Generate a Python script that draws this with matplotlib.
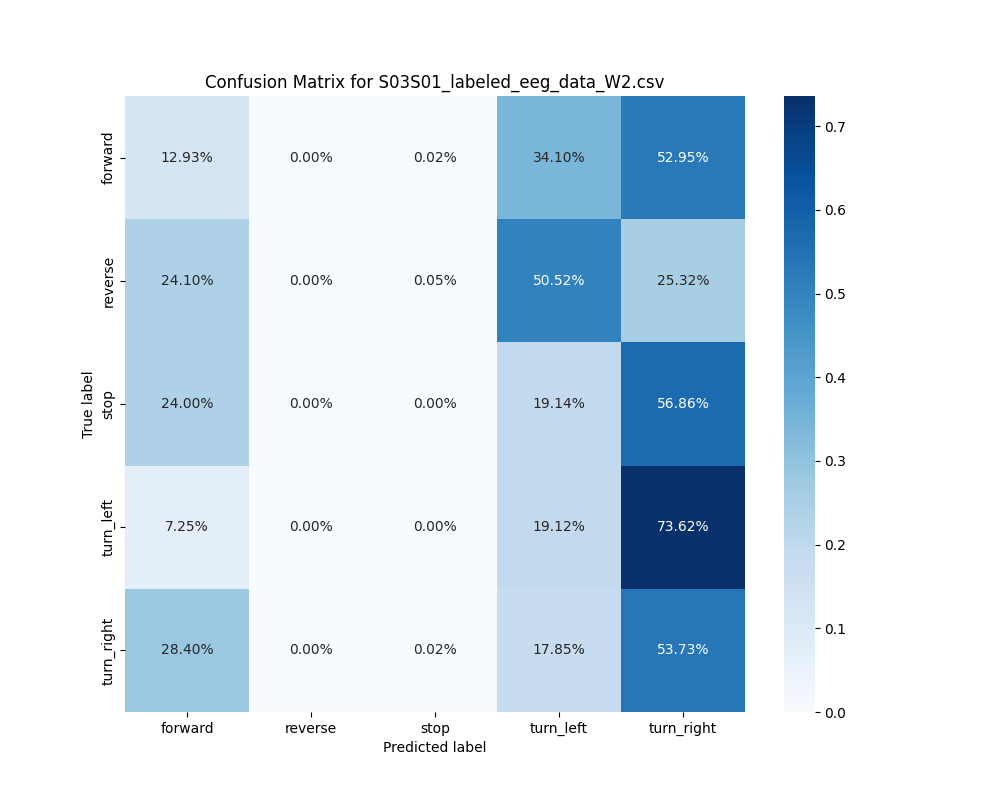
import numpy as np
import matplotlib
matplotlib.use("Agg")
import matplotlib.pyplot as plt
import seaborn as sns

labels = ["forward", "reverse", "stop", "turn_left", "turn_right"]

row_forward = [0.1293, 0.0000, 0.0002, 0.3410, 0.5295]
row_reverse = [0.2410, 0.0000, 0.0005, 0.5052, 0.2532]
row_stop = [0.2400, 0.0000, 0.0000, 0.1914, 0.5686]
row_turn_left = [0.0725, 0.0000, 0.0000, 0.1912, 0.7362]
row_turn_right = [0.2840, 0.0000, 0.0002, 0.1785, 0.5373]

cm = np.array([row_forward, row_reverse, row_stop, row_turn_left, row_turn_right])

#Plot confusion matrix
plt.figure(figsize = (10, 8))
ax = sns.heatmap(cm, annot = True, fmt = ".2%", cmap = "Blues",
                 xticklabels = labels, yticklabels = labels)
ax.set_yticklabels(labels, rotation = 90, va = "center")
plt.title("Confusion Matrix for S03S01_labeled_eeg_data_W2.csv")
plt.xlabel("Predicted label")
plt.ylabel("True label")
plt.savefig("out.png", dpi = 100)
